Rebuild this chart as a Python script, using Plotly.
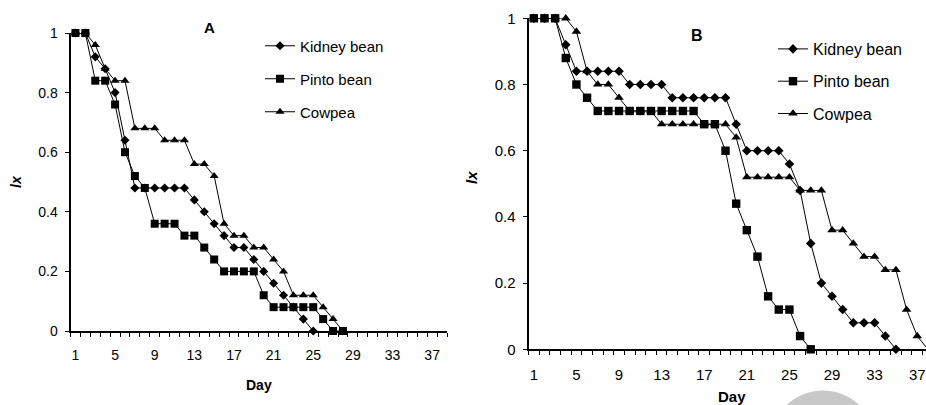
import plotly.graph_objects as go

# ---------------- data ----------------
days = list(range(1, 39))
tick_days = [1, 5, 9, 13, 17, 21, 25, 29, 33, 37]
y_ticks = [0, 0.2, 0.4, 0.6, 0.8, 1]
y_tick_text = ["0", "0.2", "0.4", "0.6", "0.8", "1"]

# Panel A
kidney_a = [1, 1, 0.92, 0.88, 0.80, 0.64, 0.48, 0.48, 0.48, 0.48, 0.48, 0.48, 0.44,
            0.40, 0.36, 0.32, 0.28, 0.28, 0.24, 0.20, 0.16, 0.12, 0.08, 0.04, 0]
pinto_a = [1, 1, 0.84, 0.84, 0.76, 0.60, 0.52, 0.48, 0.36, 0.36, 0.36, 0.32, 0.32,
           0.28, 0.24, 0.20, 0.20, 0.20, 0.20, 0.12, 0.08, 0.08, 0.08, 0.08, 0.08,
           0.04, 0, 0]
cowpea_a = [1, 1, 0.96, 0.88, 0.84, 0.84, 0.68, 0.68, 0.68, 0.64, 0.64, 0.64, 0.56,
            0.56, 0.52, 0.36, 0.32, 0.32, 0.28, 0.28, 0.24, 0.20, 0.12, 0.12, 0.12,
            0.08, 0.04, 0]

# Panel B
kidney_b = [1, 1, 1, 0.92, 0.84, 0.84, 0.84, 0.84, 0.84, 0.80, 0.80, 0.80, 0.80,
            0.76, 0.76, 0.76, 0.76, 0.76, 0.76, 0.68, 0.60, 0.60, 0.60, 0.60, 0.56,
            0.48, 0.32, 0.20, 0.16, 0.12, 0.08, 0.08, 0.08, 0.04, 0]
pinto_b = [1, 1, 1, 0.88, 0.80, 0.76, 0.72, 0.72, 0.72, 0.72, 0.72, 0.72, 0.72,
           0.72, 0.72, 0.72, 0.68, 0.68, 0.60, 0.44, 0.36, 0.28, 0.16, 0.12, 0.12,
           0.04, 0]
cowpea_b = [1, 1, 1, 1, 0.96, 0.84, 0.80, 0.80, 0.76, 0.72, 0.72, 0.72, 0.68, 0.68,
            0.68, 0.68, 0.68, 0.68, 0.68, 0.64, 0.52, 0.52, 0.52, 0.52, 0.52, 0.48,
            0.48, 0.48, 0.36, 0.36, 0.32, 0.28, 0.28, 0.24, 0.24, 0.12, 0.04, 0]

series_names = ["Kidney bean", "Pinto bean", "Cowpea"]
FONT = "Liberation Sans, Arial, sans-serif"

W, H = 926, 405
fig = go.Figure()

styles = [("diamond", 7), ("square", 8), ("triangle-up", 8)]


def add_panel(vals_list, xa, ya, legend, gsuffix, msize_scale=1.0):
    for name, vals, (sym, size) in zip(series_names, vals_list, styles):
        fig.add_trace(go.Scatter(
            x=days[:len(vals)], y=vals, name=name,
            mode="lines+markers",
            line=dict(color="black", width=1),
            marker=dict(symbol=sym, size=size * msize_scale, color="black"),
            xaxis=xa, yaxis=ya, legend=legend,
            legendgroup=name + gsuffix,
            cliponaxis=False, hoverinfo="skip",
        ))


add_panel([kidney_a, pinto_a, cowpea_a], "x", "y", "legend", "A")
add_panel([kidney_b, pinto_b, cowpea_b], "x2", "y2", "legend2", "B", 1.05)


def px_x(p):
    return p / W


def px_y(p):
    return (H - p) / H


# panel geometry (pixels)
A_left, A_right, A_bot, A_top = 70.5, 447, 331, 33
B_left, B_bot, B_top = 528.5, 349.3, 18.3
B_px_per_day = 10.65
B_range_max = 0.5 + (W - B_left) / B_px_per_day


def xaxis_cfg(domain, rng, size, standoff):
    return dict(
        domain=domain, range=rng,
        tickmode="array", tickvals=tick_days,
        ticks="outside", ticklen=0, tickcolor="black",
        ticklabelstandoff=standoff, automargin=False,
        minor=dict(tickmode="linear", tick0=0.5, dtick=1, ticks="outside",
                   ticklen=4, tickcolor="black", tickwidth=1),
        showline=True, linewidth=2, linecolor="black",
        showgrid=False, zeroline=False,
        tickfont=dict(family=FONT, size=size, color="black"),
    )


def yaxis_cfg(domain, size):
    return dict(
        domain=domain, range=[0, 1],
        tickmode="array", tickvals=y_ticks, ticktext=y_tick_text,
        ticks="outside", ticklen=4, tickcolor="black",
        ticklabelstandoff=4, automargin=False,
        showline=True, linewidth=2, linecolor="black",
        showgrid=False, zeroline=False,
        tickfont=dict(family=FONT, size=size, color="black"),
    )


fig.update_layout(
    width=W, height=H,
    margin=dict(l=0, r=0, t=0, b=0, pad=0, autoexpand=False),
    paper_bgcolor="white", plot_bgcolor="white",
    showlegend=True,
    xaxis=xaxis_cfg([px_x(A_left), px_x(A_right)], [0.5, 38.5], 14, 10),
    yaxis=yaxis_cfg([px_y(A_bot), px_y(A_top)], 14),
    xaxis2=dict(**xaxis_cfg([px_x(B_left), 1.0], [0.5, B_range_max], 15, 11), anchor="y2"),
    yaxis2=dict(**yaxis_cfg([px_y(B_bot), px_y(B_top)], 15), anchor="x2"),
    legend=dict(x=px_x(260), y=px_y(29.5), xanchor="left", yanchor="top",
                font=dict(family=FONT, size=15, color="black"),
                bgcolor="rgba(0,0,0,0)", tracegroupgap=10.5, itemwidth=30),
    legend2=dict(x=px_x(773), y=px_y(32), xanchor="left", yanchor="top",
                 font=dict(family=FONT, size=16, color="black"),
                 bgcolor="rgba(0,0,0,0)", tracegroupgap=8.5, itemwidth=30),
)

annotations = [
    dict(text="<b>A</b>", x=px_x(209), y=px_y(28), size=15),
    dict(text="<b>B</b>", x=px_x(697), y=px_y(35), size=16),
    dict(text="<b>Day</b>", x=px_x(259), y=px_y(385), size=14),
    dict(text="<b>Day</b>", x=px_x(731.7), y=px_y(396.5), size=15),
    dict(text="<b><i>lx</i></b>", x=px_x(16), y=px_y(182), size=14, angle=-90),
    dict(text="<b><i>lx</i></b>", x=px_x(471), y=px_y(178), size=15, angle=-90),
]
for a in annotations:
    fig.add_annotation(
        text=a["text"], x=a["x"], y=a["y"], xref="paper", yref="paper",
        xanchor="center", yanchor="middle", showarrow=False,
        textangle=a.get("angle", 0),
        font=dict(family=FONT, size=a["size"], color="black"),
    )

# grey watermark circle partly visible at the bottom edge
cx, cy, r = 823, 443, 52.5
fig.add_shape(type="circle", xref="paper", yref="paper",
              x0=px_x(cx - r), x1=px_x(cx + r), y0=px_y(cy + r), y1=px_y(cy - r),
              fillcolor="#c8c8c8", line=dict(width=0), layer="below")

fig.write_html("out.html",
               config={"displayModeBar": False},
               post_script="document.body.style.margin='0';document.body.style.overflow='hidden';")
